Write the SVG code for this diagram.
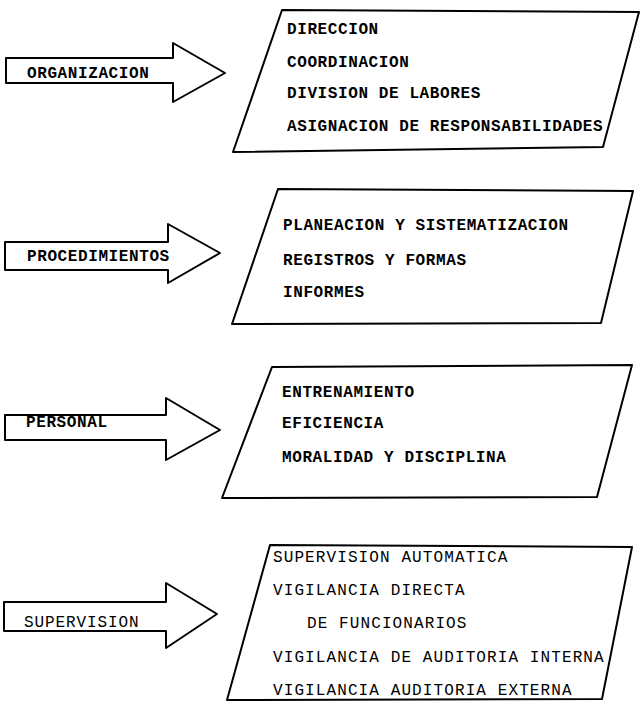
<svg xmlns="http://www.w3.org/2000/svg" width="640" height="702" viewBox="0 0 640 702">
<style>
.shape{fill:#fff;stroke:#000;stroke-width:2;stroke-linejoin:round}
.t{font-family:"Liberation Mono","Courier New",monospace;font-size:16px;letter-spacing:0.6px;fill:#000;font-weight:bold}
.l{font-weight:normal;letter-spacing:1.1px}
</style>
<rect width="640" height="702" fill="#fff"/>
<g id="connectors">
<g id="arrow-organizacion"><polygon class="shape" points="6,58 173,58 173,43 225,73 173,102 173,83 6,83"/><text class="t" x="27" y="78">ORGANIZACION</text></g>
<g id="arrow-procedimientos"><polygon class="shape" points="5,242 168,242 168,224 220,253 168,283 168,270 5,270"/><text class="t" x="27" y="261">PROCEDIMIENTOS</text></g>
<g id="arrow-personal"><polygon class="shape" points="5,415 166,415 166,398 220,430 166,460 166,440 5,440"/><text class="t" x="26" y="427">PERSONAL</text></g>
<g id="arrow-supervision"><polygon class="shape" points="4,602 166,602 166,583 217,614 166,648 166,631 4,631"/><text class="t l" x="24" y="627" style="letter-spacing:0.9px">SUPERVISION</text></g>
</g>
<g id="box-organizacion">
<polygon class="shape" points="282,10 639,12 603,147 233,152"/>
<text class="t" x="287" y="34">DIRECCION</text>
<text class="t" x="287" y="67">COORDINACION</text>
<text class="t" x="287" y="98">DIVISION DE LABORES</text>
<text class="t" x="287" y="131">ASIGNACION DE RESPONSABILIDADES</text>
</g>
<g id="box-procedimientos">
<polygon class="shape" points="278,189 633,191 601,323 232,324"/>
<text class="t" x="283" y="230">PLANEACION Y SISTEMATIZACION</text>
<text class="t" x="283" y="265">REGISTROS Y FORMAS</text>
<text class="t" x="283" y="297">INFORMES</text>
</g>
<g id="box-personal">
<polygon class="shape" points="272,367 632,365 597,497 222,498"/>
<text class="t" x="282" y="397">ENTRENAMIENTO</text>
<text class="t" x="282" y="428">EFICIENCIA</text>
<text class="t" x="282" y="462">MORALIDAD Y DISCIPLINA</text>
</g>
<g id="box-supervision">
<polygon class="shape" points="270,545 632,547 602,699 227,700"/>
<text class="t l" x="273" y="562">SUPERVISION AUTOMATICA</text>
<text class="t l" x="273" y="595">VIGILANCIA DIRECTA</text>
<text class="t l" x="307" y="628">DE FUNCIONARIOS</text>
<text class="t l" x="273" y="662">VIGILANCIA DE AUDITORIA INTERNA</text>
<text class="t l" x="273" y="695">VIGILANCIA AUDITORIA EXTERNA</text>
</g>
</svg>
